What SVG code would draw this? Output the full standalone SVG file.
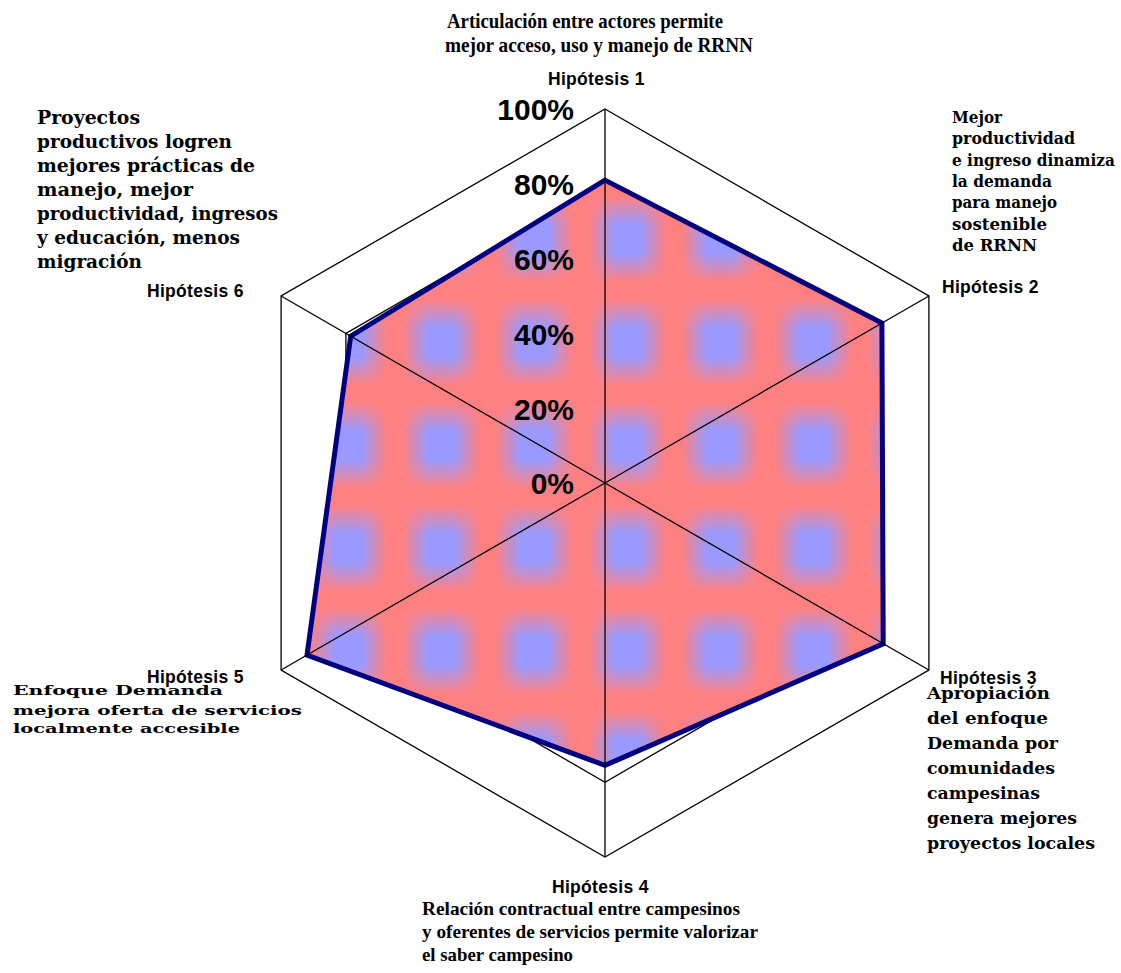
<svg xmlns="http://www.w3.org/2000/svg" width="1121" height="973" viewBox="0 0 1121 973">
<style>
.hyp{font-family:"Liberation Sans",Arial,sans-serif;font-weight:bold;font-size:17.5px;fill:#000;letter-spacing:0.3px}
.tick{font-family:"Liberation Sans",Arial,sans-serif;font-weight:bold;font-size:30px;fill:#000;text-anchor:end}
.cond{font-family:"Liberation Serif","Times New Roman",serif;font-weight:bold;fill:#000}
.wide{font-family:"DejaVu Serif","Liberation Serif",serif;font-weight:bold;fill:#000}
.ring{fill:none;stroke:#000;stroke-width:1.3}
.spoke{stroke:#000;stroke-width:1.3;fill:none}
mask{mask-type:alpha}
</style>
<defs>
<linearGradient id="gh" x1="0" y1="0" x2="1" y2="0">
<stop offset="0" stop-color="#fff" stop-opacity="0"/><stop offset="0.08" stop-color="#fff" stop-opacity="0"/><stop offset="0.36" stop-color="#fff" stop-opacity="1"/><stop offset="0.64" stop-color="#fff" stop-opacity="1"/><stop offset="0.92" stop-color="#fff" stop-opacity="0"/><stop offset="1" stop-color="#fff" stop-opacity="0"/>
</linearGradient>
<linearGradient id="gv" x1="0" y1="0" x2="0" y2="1">
<stop offset="0" stop-color="#fff" stop-opacity="0"/><stop offset="0.08" stop-color="#fff" stop-opacity="0"/><stop offset="0.36" stop-color="#fff" stop-opacity="1"/><stop offset="0.64" stop-color="#fff" stop-opacity="1"/><stop offset="0.92" stop-color="#fff" stop-opacity="0"/><stop offset="1" stop-color="#fff" stop-opacity="0"/>
</linearGradient>
<mask id="mh" maskUnits="userSpaceOnUse" x="0" y="0" width="93" height="103"><rect width="93" height="103" fill="url(#gh)"/></mask>
<mask id="mv" maskUnits="userSpaceOnUse" x="0" y="0" width="93" height="103"><rect width="93" height="103" fill="url(#gv)"/></mask>
<pattern id="tex" patternUnits="userSpaceOnUse" x="580.5" y="290.5" width="93" height="103">
<rect width="93" height="103" fill="#ff8080"/>
<g mask="url(#mv)"><rect width="93" height="103" fill="#9999ff" mask="url(#mh)"/></g>
</pattern>
</defs>
<rect width="1121" height="973" fill="#fff"/>
<g id="grid">
<polygon class="ring" points="605,408.2 669.8,445.6 669.8,520.4 605,557.8 540.2,520.4 540.2,445.6"/>
<polygon class="ring" points="605,333.4 734.6,408.2 734.6,557.8 605,632.6 475.4,557.8 475.4,408.2"/>
<polygon class="ring" points="605,258.6 799.3,370.8 799.3,595.2 605,707.4 410.7,595.2 410.7,370.8"/>
<polygon class="ring" points="605,183.8 864.1,333.4 864.1,632.6 605,782.2 345.9,632.6 345.9,333.4"/>
<polygon class="ring" points="605,109 928.9,296 928.9,670 605,857 281.1,670 281.1,296"/>
</g>
<g id="series">
<polygon points="605,180.1 881.9,323.1 883.2,643.8 605,765.4 307,655 350.7,336.2" fill="url(#tex)" stroke="#000080" stroke-width="5" stroke-linejoin="miter"/>
</g>
<g id="connectors">
<line class="spoke" x1="605" y1="483" x2="605" y2="109"/>
<line class="spoke" x1="605" y1="483" x2="928.9" y2="296"/>
<line class="spoke" x1="605" y1="483" x2="928.9" y2="670"/>
<line class="spoke" x1="605" y1="483" x2="605" y2="857"/>
<line class="spoke" x1="605" y1="483" x2="281.1" y2="670"/>
<line class="spoke" x1="605" y1="483" x2="281.1" y2="296"/>
</g>
<g id="ticks">
<text class="tick" x="574" y="120">100%</text>
<text class="tick" x="574" y="195">80%</text>
<text class="tick" x="574" y="270">60%</text>
<text class="tick" x="574" y="345">40%</text>
<text class="tick" x="574" y="420">20%</text>
<text class="tick" x="574" y="494">0%</text>
</g>
<g id="h1">
<text class="cond" font-size="21" x="447" y="28" textLength="276" lengthAdjust="spacingAndGlyphs">Articulación entre actores permite</text>
<text class="cond" font-size="21" x="445" y="52" textLength="308" lengthAdjust="spacingAndGlyphs">mejor acceso, uso y manejo de RRNN</text>
<text class="hyp" x="548" y="85">Hipótesis 1</text>
</g>
<g id="h2">
<text class="wide" font-size="16" x="952" y="123" textLength="50" lengthAdjust="spacingAndGlyphs">Mejor</text>
<text class="wide" font-size="16" x="952" y="144.3" textLength="123" lengthAdjust="spacingAndGlyphs">productividad</text>
<text class="wide" font-size="16" x="952" y="165.6" textLength="163" lengthAdjust="spacingAndGlyphs">e ingreso dinamiza</text>
<text class="wide" font-size="16" x="952" y="186.9" textLength="100" lengthAdjust="spacingAndGlyphs">la demanda</text>
<text class="wide" font-size="16" x="952" y="208.2" textLength="105" lengthAdjust="spacingAndGlyphs">para manejo</text>
<text class="wide" font-size="16" x="952" y="229.5" textLength="95" lengthAdjust="spacingAndGlyphs">sostenible</text>
<text class="wide" font-size="16" x="952" y="250.8" textLength="85" lengthAdjust="spacingAndGlyphs">de RRNN</text>
<text class="hyp" x="942" y="293">Hipótesis 2</text>
</g>
<g id="h3">
<text class="hyp" x="940" y="684">Hipótesis 3</text>
<text class="wide" font-size="17.5" x="927" y="699" textLength="123" lengthAdjust="spacingAndGlyphs">Apropiación</text>
<text class="wide" font-size="17.5" x="927" y="724" textLength="121" lengthAdjust="spacingAndGlyphs">del enfoque</text>
<text class="wide" font-size="17.5" x="927" y="749" textLength="131" lengthAdjust="spacingAndGlyphs">Demanda por</text>
<text class="wide" font-size="17.5" x="927" y="774" textLength="128" lengthAdjust="spacingAndGlyphs">comunidades</text>
<text class="wide" font-size="17.5" x="927" y="799" textLength="113" lengthAdjust="spacingAndGlyphs">campesinas</text>
<text class="wide" font-size="17.5" x="927" y="824" textLength="150" lengthAdjust="spacingAndGlyphs">genera mejores</text>
<text class="wide" font-size="17.5" x="927" y="849" textLength="168" lengthAdjust="spacingAndGlyphs">proyectos locales</text>
</g>
<g id="h4">
<text class="hyp" x="552" y="893">Hipótesis 4</text>
<text class="cond" font-size="19" x="422" y="915" textLength="318" lengthAdjust="spacingAndGlyphs">Relación contractual entre campesinos</text>
<text class="cond" font-size="19" x="422" y="938" textLength="336" lengthAdjust="spacingAndGlyphs">y oferentes de servicios permite valorizar</text>
<text class="cond" font-size="19" x="422" y="961" textLength="151" lengthAdjust="spacingAndGlyphs">el saber campesino</text>
</g>
<g id="h5">
<text class="hyp" x="147" y="683">Hipótesis 5</text>
<text class="wide" font-size="13.5" x="13" y="695" textLength="210" lengthAdjust="spacingAndGlyphs">Enfoque Demanda</text>
<text class="wide" font-size="13.5" x="13" y="714.5" textLength="289" lengthAdjust="spacingAndGlyphs">mejora oferta de servicios</text>
<text class="wide" font-size="13.5" x="13" y="733" textLength="227" lengthAdjust="spacingAndGlyphs">localmente accesible</text>
</g>
<g id="h6">
<text class="wide" font-size="18" x="37" y="124" textLength="103" lengthAdjust="spacingAndGlyphs">Proyectos</text>
<text class="wide" font-size="18" x="37" y="148" textLength="195" lengthAdjust="spacingAndGlyphs">productivos logren</text>
<text class="wide" font-size="18" x="37" y="172" textLength="218" lengthAdjust="spacingAndGlyphs">mejores prácticas de</text>
<text class="wide" font-size="18" x="37" y="196" textLength="156" lengthAdjust="spacingAndGlyphs">manejo, mejor</text>
<text class="wide" font-size="18" x="37" y="220" textLength="241" lengthAdjust="spacingAndGlyphs">productividad, ingresos</text>
<text class="wide" font-size="18" x="37" y="244" textLength="203" lengthAdjust="spacingAndGlyphs">y educación, menos</text>
<text class="wide" font-size="18" x="37" y="268" textLength="105" lengthAdjust="spacingAndGlyphs">migración</text>
<text class="hyp" x="147" y="297">Hipótesis 6</text>
</g>
</svg>
